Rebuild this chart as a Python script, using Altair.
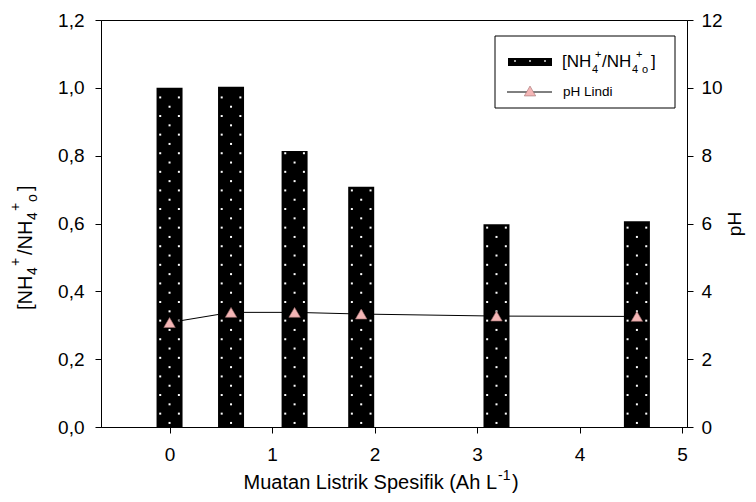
import altair as alt
import pandas as pd
import numpy as np

# data
charge = [0.0, 0.6, 1.22, 1.87, 3.19, 4.56]
nh4_ratio = [1.0, 1.003, 0.814, 0.708, 0.598, 0.607]
ph = [3.08, 3.38, 3.38, 3.33, 3.27, 3.26]

x_ticks = [0, 1, 2, 3, 4, 5]
y_left_ticks = [0.0, 0.2, 0.4, 0.6, 0.8, 1.0, 1.2]
y_right_ticks = [0, 2, 4, 6, 8, 10, 12]

X_DOM = [-0.62, 5.0]
W, H = 586, 407
FONT = "Liberation Sans"

df = pd.DataFrame({"x": charge, "r": nh4_ratio, "ph": ph})

# decorative dot pattern inside bars (derived from the bar data)
px_x = (X_DOM[1] - X_DOM[0]) / W
px_y = 1.2 / H
rows = []
for xv, rv in zip(charge, nh4_ratio):
    k = 0
    while True:
        yy = 0.012 + k * 9.3 * px_y
        if yy > rv - 0.004:
            break
        offs = [0.0] if k % 2 == 0 else [-9.5 * px_x, 9.5 * px_x]
        for o in offs:
            rows.append({"x": xv + o, "y": yy})
        k += 1
dots_df = pd.DataFrame(rows)

xscale = alt.Scale(domain=X_DOM, nice=False, zero=False)
xaxis = alt.Axis(values=x_ticks, title=None, grid=False, tickSize=6, labelPadding=12)
yl_scale = alt.Scale(domain=[0, 1.2], nice=False)
yl_axis = alt.Axis(values=y_left_ticks, orient="left", grid=False,
                   labelExpr="replace(format(datum.value, '.1f'), '.', ',')",
                   title=None, tickSize=6, labelPadding=11)
yr = alt.Scale(domain=[0, 12], nice=False)
yr_axis = alt.Axis(values=y_right_ticks, orient="right", grid=False,
                   format="d", title="pH", titleAngle=270, tickSize=6,
                   labelPadding=8, titlePadding=22)

bars = alt.Chart(df).mark_bar(size=26, color="black").encode(
    x=alt.X("x:Q", scale=xscale, axis=xaxis),
    y=alt.Y("r:Q", scale=yl_scale, axis=yl_axis),
)
dots = alt.Chart(dots_df).mark_square(size=4, color="white", opacity=1).encode(
    x=alt.X("x:Q", scale=xscale, axis=xaxis),
    y=alt.Y("y:Q", scale=yl_scale, axis=yl_axis),
)

line = alt.Chart(df).mark_line(color="black", strokeWidth=1).encode(
    x=alt.X("x:Q", scale=xscale, axis=xaxis),
    y=alt.Y("ph:Q", scale=yr, axis=yr_axis),
)
pts = alt.Chart(df).mark_point(shape="triangle-up", size=130, filled=True,
                                fill="#f4b6b6", stroke="#a07070",
                                strokeWidth=0.6, opacity=1).encode(
    x=alt.X("x:Q", scale=xscale, axis=xaxis),
    y=alt.Y("ph:Q", scale=yr, axis=yr_axis),
)

# text pieces (with sub/superscripts) for titles and legend
def pieces(rows_, angle=0):
    d = pd.DataFrame(rows_, columns=["t", "px", "py", "fs"])
    return alt.Chart(d).mark_text(align="left", baseline="alphabetic", font=FONT,
                                  color="black", angle=angle).encode(
        x=alt.X("px:Q", scale=None), y=alt.Y("py:Q", scale=None),
        text="t:N", size=alt.Size("fs:Q", scale=None, legend=None))

# x-axis title: Muatan Listrik Spesifik (Ah L^-1)
xt_main = alt.Chart(pd.DataFrame({"t": ["Muatan Listrik Spesifik (Ah L"]})).mark_text(
    align="right", baseline="alphabetic", font=FONT, fontSize=20, color="black").encode(
    x=alt.value(396), y=alt.value(469), text="t:N")
xt_rest = pieces([["-1", 397, 460, 14], [")", 411, 469, 20]])

# left y title: [NH4+/NH4+o] rotated, reading upward
yt = pieces([
    ["[NH", -69, 290, 20],
    ["4", -64, 255, 14],
    ["+", -81, 246, 14],
    ["/NH", -69, 235, 20],
    ["4", -64, 200, 14],
    ["+", -81, 191, 14],
    ["o", -64, 182, 14],
    ["]", -69, 171, 20],
], angle=270)

# manual legend
one = pd.DataFrame({"a": [0]})
leg_box = alt.Chart(one).mark_rect(fill="white", stroke="black", strokeWidth=1).encode(
    x=alt.value(394), x2=alt.value(574), y=alt.value(16), y2=alt.value(88))
leg_sw = alt.Chart(one).mark_rect(fill="black").encode(
    x=alt.value(407), x2=alt.value(451), y=alt.value(38), y2=alt.value(46))
leg_sw_dots = alt.Chart(pd.DataFrame({"px": [414, 429, 444]})).mark_square(
    size=3, color="white", opacity=1).encode(x=alt.X("px:Q", scale=None), y=alt.value(41))
leg_line = alt.Chart(one).mark_rule(color="black", strokeWidth=1).encode(
    x=alt.value(406), x2=alt.value(451), y=alt.value(72))
leg_tri = alt.Chart(one).mark_point(shape="triangle-up", size=130, filled=True,
                                    fill="#f4b6b6", stroke="#a07070",
                                    strokeWidth=0.6, opacity=1).encode(
    x=alt.value(429), y=alt.value(71))
leg_t1 = pieces([
    ["[NH", 461, 47, 17],
    ["4", 491, 53, 11],
    ["+", 494, 38, 11],
    ["/NH", 501, 47, 17],
    ["4", 531, 53, 11],
    ["+", 535, 38, 11],
    ["o", 541, 53, 11],
    ["]", 550, 47, 17],
])
leg_t2 = alt.Chart(one).mark_text(text="pH Lindi", align="left", baseline="middle",
                                  font=FONT, fontSize=13.5, color="black").encode(
    x=alt.value(462), y=alt.value(72))

left = alt.layer(bars, dots)
right = alt.layer(line, pts)
extras = alt.layer(xt_main, xt_rest, yt, leg_box, leg_sw, leg_sw_dots, leg_line,
                   leg_tri, leg_t1, leg_t2)

chart = alt.layer(left, right, extras).resolve_scale(y="independent").properties(
    width=W, height=H,
    autosize=alt.AutoSizeParams(type="none"),
    padding={"left": 93, "top": 12, "right": 61, "bottom": 67},
    background="white",
).configure_view(stroke="black", strokeWidth=1).configure_axis(
    domainColor="black", tickColor="black", labelColor="black", titleColor="black",
    labelFont=FONT, titleFont=FONT, labelFontSize=19, titleFontSize=19,
    titleFontWeight="normal", domainWidth=1, tickWidth=1,
)

chart.save("out.html", embed_options={"renderer": "svg", "actions": False})
